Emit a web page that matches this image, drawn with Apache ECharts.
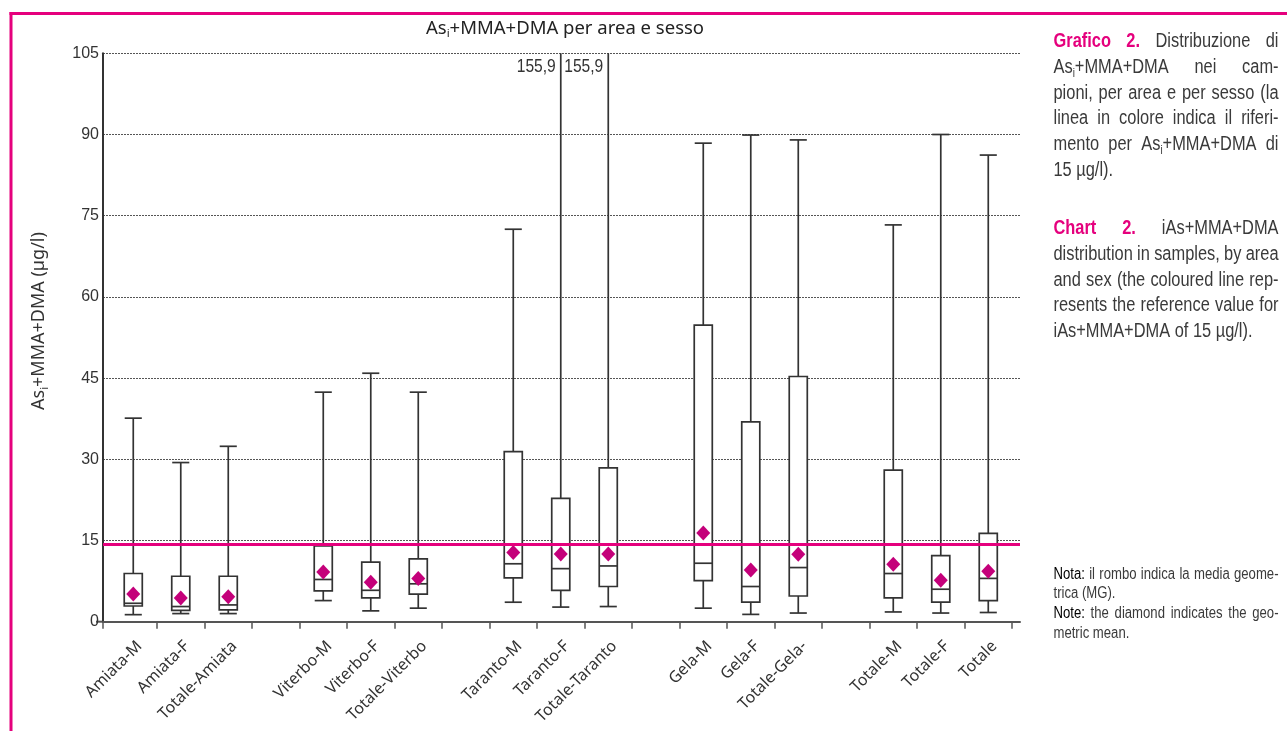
<!DOCTYPE html>
<html>
<head>
<meta charset="utf-8">
<script src="https://cdn.jsdelivr.net/npm/echarts@6.0.0/dist/echarts.min.js"></script>
<style>
  html, body { margin: 0; padding: 0; background: #fff; }
  #chart { width: 1287px; height: 731px; }
</style>
</head>
<body>
<div id="chart"></div>
<script>
// ---- data: As_i+MMA+DMA (µg/l) by area and sex ----
const categories = ['Amiata-M', 'Amiata-F', 'Totale-Amiata', '',
  'Viterbo-M', 'Viterbo-F', 'Totale-Viterbo', '',
  'Taranto-M', 'Taranto-F', 'Totale-Taranto', '',
  'Gela-M', 'Gela-F', 'Totale-Gela-', '',
  'Totale-M', 'Totale-F', 'Totale'];
const whiskerLow  = [1.3, 1.5, 1.5, null, 3.9, 2.0, 2.5, null, 3.6, 2.7, 2.8, null, 2.5, 1.35, 1.6, null, 1.8, 1.6, 1.7];
const quartile1   = [2.9, 2.1, 2.2, null, 5.7, 4.4, 5.1, null, 8.1, 5.8, 6.5, null, 7.6, 3.6, 4.75, null, 4.4, 3.6, 3.9];
const medians     = [3.4, 2.8, 3.1, null, 7.8, 5.8, 7.0, null, 10.7, 9.8, 10.3, null, 10.8, 6.5, 10.0, null, 8.9, 6.0, 8.0];
const quartile3   = [8.9, 8.4, 8.4, null, 14.0, 11.0, 11.6, null, 31.4, 22.8, 28.4, null, 54.8, 36.9, 45.3, null, 28.0, 12.2, 16.3];
const whiskerHigh = [37.6, 29.4, 32.4, null, 42.4, 45.9, 42.4, null, 72.5, 155.9, 155.9, null, 88.4, 89.9, 89.0, null, 73.3, 90.0, 86.2];
const geoMeans    = [5.1, 4.4, 4.6, null, 9.2, 7.3, 8.0, null, 12.8, 12.5, 12.5, null, 16.4, 9.55, 12.45, null, 10.6, 7.65, 9.3];
const yTickValues = [0, 15, 30, 45, 60, 75, 90, 105];
const referenceLevel = 14.3;

// ---- layout & style ----
const PINK = '#e5007d';
const DIAMOND = '#c4007a';
const INK = '#333333';
const GRID = { left: 103, right: 267, top: 53.3, bottom: 109.3 };
const Y_MIN = yTickValues[0], Y_MAX = yTickValues[yTickValues.length - 1], Y_STEP = yTickValues[1] - yTickValues[0];
// category slots sit slightly inside the axis line on both ends
const X_MIN = -0.637, X_MAX = 18.668;
const LABEL_SHIFT = 0.13;          // rotated labels hang a little right of their slot centre
const CONDENSE = 0.82;             // horizontal squeeze for the condensed caption face
const ARIAL = '"Liberation Sans", Arial, sans-serif';
const SANS = '"Noto Sans", "Open Sans", sans-serif';

const boxData = categories.map((c, i) => whiskerLow[i] == null ? null :
  [i, whiskerLow[i], quartile1[i], medians[i], quartile3[i], whiskerHigh[i]]).filter(Boolean);
const meanData = categories.map((c, i) => geoMeans[i] == null ? null : [i, geoMeans[i]]).filter(Boolean);
const labelPositions = categories.map((c, i) => c ? i + LABEL_SHIFT : null).filter(v => v !== null);
const tickPositions = [X_MIN].concat(categories.map((c, i) => i + 0.5));

function renderBox(params, api) {
  const idx = api.value(0);
  const band = api.size([1, 0])[0];
  const cx = api.coord([idx, 0])[0];
  const top = api.coord([idx, Y_MAX])[1];
  const y = v => api.coord([idx, v])[1];
  const half = band * 0.19, capHalf = band * 0.18;
  const lo = y(api.value(1)), q1 = y(api.value(2)), med = y(api.value(3)), q3 = y(api.value(4));
  const hiValue = api.value(5);
  const clipped = hiValue > Y_MAX;
  const hi = clipped ? top : y(hiValue);
  const stroke = { stroke: INK, lineWidth: 1.7 };
  const line = (x1, y1, x2, y2) => ({ type: 'line', shape: { x1, y1, x2, y2 }, style: stroke });
  const children = [
    line(cx, hi, cx, q3),
    line(cx, q1, cx, lo),
    line(cx - capHalf, lo, cx + capHalf, lo),
    { type: 'rect', shape: { x: cx - half, y: q3, width: half * 2, height: q1 - q3 },
      style: { fill: '#fff', stroke: INK, lineWidth: 1.7 } },
    line(cx - half, med, cx + half, med)
  ];
  if (clipped) {
    // whisker runs off the top: state its value next to it
    children.push({ type: 'text', x: cx - 5, y: top + 4, scaleX: CONDENSE, style: {
      text: hiValue.toFixed(1).replace('.', ','),
      align: 'right', verticalAlign: 'top', fill: INK, fontSize: 19, fontFamily: ARIAL } });
  } else {
    children.push(line(cx - capHalf, hi, cx + capHalf, hi));
  }
  return { type: 'group', children };
}

// ---- caption text with justified lines ----
const measureCtx = document.createElement('canvas').getContext('2d');
function segments(str) {
  const out = []; const re = /\{(\w+)\|([^}]*)\}/g; let last = 0, m;
  while ((m = re.exec(str))) {
    if (m.index > last) out.push({ key: null, text: str.slice(last, m.index) });
    out.push({ key: m[1], text: m[2] }); last = re.lastIndex;
  }
  if (last < str.length) out.push({ key: null, text: str.slice(last) });
  return out;
}
function textWidth(str, base, rich) {
  return segments(str).reduce((w, s) => {
    const st = s.key ? Object.assign({}, base, rich[s.key]) : base;
    measureCtx.font = `${st.fontWeight || 'normal'} ${st.fontSize}px ${st.fontFamily}`;
    return w + measureCtx.measureText(s.text).width;
  }, 0) * CONDENSE;
}
function paragraph(lines, opts) {
  const { left, right, baseline, step, size, fill, rich } = opts;
  const base = { fontSize: size, fontFamily: ARIAL, fill, lineHeight: size + 4 };
  const out = [];
  lines.forEach(([str, justify], k) => {
    const cy = baseline + k * step - size * 0.33;
    const words = str.match(/(\{[^}]*\}|\S)+/g);
    const widths = words.map(w => textWidth(w, base, rich));
    const space = textWidth(' ', base, rich);
    const gap = justify && words.length > 1
      ? (right - left - widths.reduce((a, b) => a + b, 0)) / (words.length - 1) : space;
    let x = left;
    words.forEach((w, j) => {
      out.push({ type: 'text', x, y: cy, scaleX: CONDENSE, silent: true,
        style: Object.assign({ text: w, rich, verticalAlign: 'middle', align: 'left' }, base) });
      x += widths[j] + gap;
    });
  });
  return out;
}
function captionRich(size) {
  return {
    b: { fontSize: size, fontFamily: ARIAL, fontWeight: 'bold', fill: PINK, lineHeight: size + 4 },
    n: { fontSize: size, fontFamily: ARIAL, fill: '#000', lineHeight: size + 4 },
    s: { fontSize: Math.round(size * 0.62), fontFamily: ARIAL, fill: '#3a3a3a', lineHeight: 12, verticalAlign: 'bottom' }
  };
}

const CAP_L = 1053.5, CAP_R = 1278.5;
const captions = [].concat(
  paragraph([
    ['{b|Grafico} {b|2.} Distribuzione di', true],
    ['As{s|i}+MMA+DMA nei cam-', true],
    ['pioni, per area e per sesso (la', true],
    ['linea in colore indica il riferi-', true],
    ['mento per As{s|i}+MMA+DMA di', true],
    ['15 µg/l).', false]
  ], { left: CAP_L, right: CAP_R, baseline: 48, step: 25.8, size: 20, fill: '#3a3a3a', rich: captionRich(20) }),
  paragraph([
    ['{b|Chart} {b|2.} iAs+MMA+DMA', true],
    ['distribution in samples, by area', true],
    ['and sex (the coloured line rep-', true],
    ['resents the reference value for', true],
    ['iAs+MMA+DMA of 15 µg/l).', false]
  ], { left: CAP_L, right: CAP_R, baseline: 235.5, step: 25.6, size: 20, fill: '#3a3a3a', rich: captionRich(20) }),
  paragraph([
    ['{n|Nota:} il rombo indica la media geome-', true],
    ['trica (MG).', false],
    ['{n|Note:} the diamond indicates the geo-', true],
    ['metric mean.', false]
  ], { left: CAP_L, right: CAP_R, baseline: 579.5, step: 19.7, size: 16, fill: '#3a3a3a', rich: captionRich(16) })
);

const chart = echarts.init(document.getElementById('chart'), null, { renderer: 'canvas' });
const axisY0 = 731 - GRID.bottom;

chart.setOption({
  animation: false,
  backgroundColor: '#fff',
  grid: GRID,
  xAxis: {
    type: 'value', min: X_MIN, max: X_MAX,
    splitLine: { show: false },
    axisLine: { show: true, onZero: false, lineStyle: { color: '#555', width: 2 } },
    axisTick: { show: true, customValues: tickPositions, length: 7, lineStyle: { color: '#555', width: 1.5 } },
    axisLabel: {
      customValues: labelPositions, rotate: 45, margin: 22,
      formatter: v => categories[Math.round(v)] || '',
      color: INK, fontSize: 16, fontFamily: SANS
    }
  },
  yAxis: {
    type: 'value', min: Y_MIN, max: Y_MAX, interval: Y_STEP,
    axisLine: { show: true, onZero: false, lineStyle: { color: '#333', width: 2 } },
    axisTick: { show: false },
    axisLabel: { color: INK, fontSize: 16, fontFamily: ARIAL, margin: 4 },
    splitLine: { show: true, lineStyle: { color: '#555', width: 1, type: [2, 1] } }
  },
  series: [
    {
      type: 'custom', name: 'box', z: 2,
      renderItem: renderBox,
      encode: { x: 0, y: [1, 2, 3, 4, 5] },
      data: boxData
    },
    {
      type: 'line', name: 'riferimento', z: 3, data: [],
      markLine: {
        silent: true, symbol: 'none', animation: false,
        label: { show: false },
        lineStyle: { color: PINK, width: 3, type: 'solid' },
        data: [{ yAxis: referenceLevel }]
      }
    },
    {
      type: 'scatter', name: 'MG', z: 4,
      symbol: 'diamond', symbolSize: [14, 15],
      itemStyle: { color: DIAMOND, opacity: 1 },
      data: meanData
    }
  ],
  graphic: [
    // page frame
    { type: 'line', silent: true, shape: { x1: 9.5, y1: 13.5, x2: 1287, y2: 13.5 }, style: { stroke: PINK, lineWidth: 3 } },
    { type: 'line', silent: true, shape: { x1: 11, y1: 12, x2: 11, y2: 731 }, style: { stroke: PINK, lineWidth: 3 } },
    // small stub of the x axis left of the y axis
    { type: 'line', silent: true, shape: { x1: GRID.left - 7, y1: axisY0, x2: GRID.left, y2: axisY0 }, style: { stroke: '#555', lineWidth: 2 } },
    {
      type: 'text', x: 565, y: 29, silent: true,
      style: {
        text: '{a|As}{s|i}{a|+MMA+DMA per area e sesso}', align: 'center', verticalAlign: 'middle',
        rich: {
          a: { fontSize: 18.5, fontFamily: SANS, fill: '#222', lineHeight: 22 },
          s: { fontSize: 11.5, fontFamily: SANS, fill: '#222', lineHeight: 12, verticalAlign: 'bottom' }
        }
      }
    },
    {
      type: 'text', x: 39, y: 321, rotation: Math.PI / 2, silent: true,
      style: {
        text: '{a|As}{s|i}{a|+MMA+DMA (µg/l)}', align: 'center', verticalAlign: 'middle',
        rich: {
          a: { fontSize: 18, fontFamily: SANS, fill: INK, lineHeight: 22 },
          s: { fontSize: 11, fontFamily: SANS, fill: INK, lineHeight: 12, verticalAlign: 'bottom' }
        }
      }
    }
  ].concat(captions)
});
</script>
</body>
</html>
